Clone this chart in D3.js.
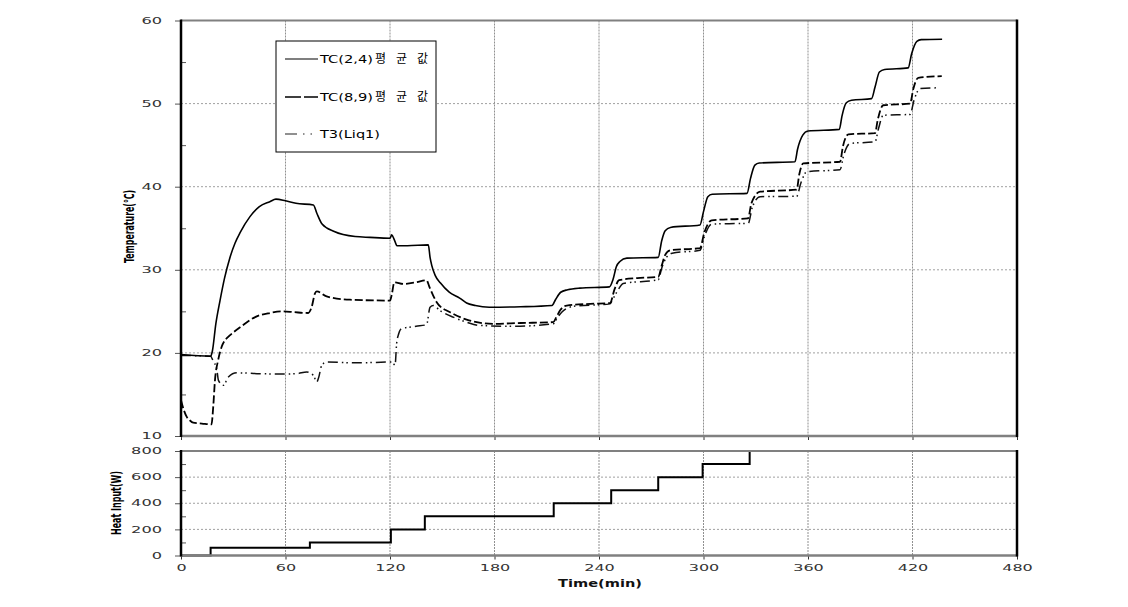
<!DOCTYPE html>
<html><head><meta charset="utf-8">
<script src="https://cdn.jsdelivr.net/npm/d3@7"></script>
<style>
body{margin:0;background:#fff;}
text{font-family:"DejaVu Sans","Noto Sans CJK KR",sans-serif;}
</style></head>
<body><svg id="c" width="1128" height="607"></svg>
<script>
// ---- data ----
const timeTicks = [0,60,120,180,240,300,360,420,480];
const tempTicks = [10,20,30,40,50,60];
const heatTicks = [0,200,400,600,800];
const seriesNames = ["TC(2,4)","TC(8,9)","T3(Liq1)"];
const seriesSuffix = ["평균값","평균값",""];

const tc24_t = [0,17,18,20,22.4,25,28,31,34,39.6,45,51,54.5,60,66,76,78,81,88,100,108.5,120,121,122.5,124,130,142,143,144,146,149,154,160,164,169,177,195,213,215,218,222,229,246,248,250,252,256,274,276,278,281,298,300,302.5,305,325,327,329.5,332,352.5,354,357,360,378,379.5,382,385,396.5,398.5,401,404,417.5,419.5,422.5,425,437];
const tc24_v = [19.8,19.6,20.2,23.5,26.3,29,31.4,33.2,34.5,36.4,37.6,38.2,38.5,38.3,38.0,37.8,36.8,35.5,34.6,34.0,33.9,33.8,34.2,33.6,32.9,32.9,33.0,31.5,30.5,29.3,28.4,27.3,26.6,26.0,25.7,25.5,25.55,25.7,26.4,27.3,27.6,27.8,27.95,28.8,30.4,31.0,31.4,31.5,33.5,34.7,35.1,35.4,37.0,38.8,39.1,39.2,41.0,42.6,42.85,43.0,44.5,46.2,46.7,46.9,48.5,50.1,50.4,50.6,52.0,53.8,54.1,54.3,56.0,57.5,57.7,57.75];

const tc89_t = [0,1.5,3.3,5,7,12,17.5,18.5,19.5,21.3,23.3,26,28,34,43.5,51,58.5,65,73,75,77,78,83.6,97,120,121,122.5,127.6,135,141,142.5,144.8,146.8,150.6,152.5,164,179,195,213.7,215.5,217.6,221.5,235,246.3,249,251.5,262,274,276,278,280.8,298,300.5,304.7,325.6,327.5,332.5,353.5,355,357.3,378.4,380,383.2,398.5,400,403.2,418.6,420.5,423.3,436.8];
const tc89_v = [14.3,13.2,12.3,11.9,11.6,11.5,11.4,13.5,16.7,19.1,20.7,21.7,22.1,23.1,24.4,24.8,25.0,24.9,24.8,25.5,27.2,27.4,26.8,26.4,26.3,27.0,28.5,28.3,28.5,28.75,28.0,26.9,26.1,25.3,25.1,24.0,23.5,23.6,23.7,24.3,25.1,25.7,25.9,26.0,27.7,28.75,29.0,29.15,30.5,31.8,32.35,32.6,34.5,35.96,36.2,38.0,39.4,39.65,41.5,42.8,43.0,44.8,46.3,46.45,48.0,49.8,50.0,51.8,53.1,53.3];

const t3_t = [0,17,18.5,20.5,21.5,24.3,27.2,32,45,57,66.4,72.2,76,78,79,80.8,83.6,100.9,121,122,122.9,123.8,125,126.5,135,141,143,144.9,148.7,156.3,164,171.7,190.7,213.8,216,218.6,225.3,246.3,248,250.2,253.9,274,276,278.9,282,298,300.5,304.7,325.7,328,332.5,353.5,356,359.3,378.4,380.5,384.1,398.5,400.5,403.2,418.6,421,424.3,434.8];
const t3_v = [19.7,19.6,19.0,18.1,16.7,16.1,17.1,17.6,17.5,17.45,17.5,17.7,17.3,16.5,17.0,18.5,18.9,18.8,18.9,18.7,18.5,21.1,22.3,22.9,23.2,23.4,25.5,25.7,25.1,24.3,23.7,23.3,23.2,23.5,24.2,24.9,25.6,25.9,26.5,27.3,28.35,28.8,30.2,31.55,32.0,32.35,34.0,35.5,35.6,37.5,38.8,38.85,40.5,41.8,42.05,43.8,45.2,45.4,47.0,48.6,48.7,50.5,51.8,51.9];

const heat_t = [0,17,74,120.5,140,214,247,274,299.5,326.5];
const heat_v = [0,60,100,200,300,400,500,600,700,800];

// ---- chart ----
const svg = d3.select("#c");
const x = d3.scaleLinear().domain([0,480]).range([181,1017]);
const yT = d3.scaleLinear().domain([10,60]).range([436,20.5]);
const yH = d3.scaleLinear().domain([0,800]).range([555.5,451]);

function grid(y, vals, y0, y1){
  const g = svg.append("g");
  g.selectAll("line.h").data(vals).join("line")
    .attr("x1",x(0)).attr("x2",x(480)).attr("y1",d=>y(d)).attr("y2",d=>y(d))
    .attr("stroke","#a0a0a0").attr("stroke-width",1).attr("stroke-dasharray","2,2");
  g.selectAll("line.v").data(timeTicks.slice(1,-1)).join("line")
    .attr("x1",d=>x(d)).attr("x2",d=>x(d)).attr("y1",y0).attr("y2",y1)
    .attr("stroke","#909090").attr("stroke-width",1).attr("stroke-dasharray","2,1");
}
grid(yT,[20,30,40,50],yT(60),yT(10));
grid(yH,[200,400,600],yH(800),yH(0));

function frame(y0,y1){
  svg.append("line").attr("x1",x(0)).attr("x2",x(480)).attr("y1",y0).attr("y2",y0).attr("stroke","#808080").attr("stroke-width",2);
  svg.append("line").attr("x1",x(0)).attr("x2",x(480)).attr("y1",y1).attr("y2",y1).attr("stroke","#808080").attr("stroke-width",2.5);
  svg.append("line").attr("x1",x(0)).attr("x2",x(0)).attr("y1",y0-1).attr("y2",y1+1).attr("stroke","#000").attr("stroke-width",2.5);
  svg.append("line").attr("x1",x(480)).attr("x2",x(480)).attr("y1",y0-1).attr("y2",y1+1).attr("stroke","#000").attr("stroke-width",2.5);
}

function styleAxis(g, charW){
  g.select(".domain").remove();
  g.selectAll(".tick line").attr("stroke","#555");
  g.selectAll(".tick text").attr("fill","#333").style("font-size","8.5px")
    .each(function(){ const n=this.textContent.length; d3.select(this).attr("textLength",n*charW).attr("lengthAdjust","spacingAndGlyphs"); });
}

// lines
const lineT = d3.line().x(d=>x(d[0])).y(d=>yT(d[1])).curve(d3.curveMonotoneX);
const zip = (a,b)=>a.map((t,i)=>[t,b[i]]);
const styles = [
  {dash:null, w:1.6, c:"#000"},
  {dash:"8,3", w:1.8, c:"#000"},
  {dash:"10,4,1.5,3,1.5,4", w:1.5, c:"#111"}
];
const seriesData = [zip(tc24_t,tc24_v), zip(tc89_t,tc89_v), zip(t3_t,t3_v)];
[2,1,0].forEach(i=>{
  svg.append("path").datum(seriesData[i]).attr("d",lineT)
    .attr("fill","none").attr("stroke",styles[i].c).attr("stroke-width",styles[i].w)
    .attr("stroke-dasharray",styles[i].dash);
});

const lineH = d3.line().x(d=>x(d[0])).y(d=>yH(d[1])).curve(d3.curveStepAfter);
svg.append("path").datum(zip(heat_t,heat_v)).attr("d",lineH)
  .attr("fill","none").attr("stroke","#000").attr("stroke-width",2);

// y axes
const gyT = svg.append("g").attr("transform",`translate(${x(0)},0)`)
  .call(d3.axisLeft(yT).tickValues(tempTicks).tickSize(6).tickPadding(13).tickFormat(d3.format("d")));
styleAxis(gyT,10.3);
svg.append("g").attr("transform",`translate(${x(0)},0)`)
  .call(d3.axisRight(yT).tickValues([15,25,35,45,55]).tickSize(5).tickFormat(""))
  .call(g=>{g.select(".domain").remove(); g.selectAll(".tick line").attr("stroke","#555");});

const gyH = svg.append("g").attr("transform",`translate(${x(0)},0)`)
  .call(d3.axisLeft(yH).tickValues(heatTicks).tickSize(6).tickPadding(13).tickFormat(d3.format("d")));
styleAxis(gyH,10.3);
svg.append("g").attr("transform",`translate(${x(0)},0)`)
  .call(d3.axisRight(yH).tickValues([100,300,500,700]).tickSize(5).tickFormat(""))
  .call(g=>{g.select(".domain").remove(); g.selectAll(".tick line").attr("stroke","#555");});

// x axes
svg.append("g").attr("transform",`translate(0,${yT(10)})`)
  .call(d3.axisBottom(x).tickValues(timeTicks).tickSize(4).tickFormat(""))
  .call(g=>{g.select(".domain").remove(); g.selectAll(".tick line").attr("stroke","#333");});
const gx = svg.append("g").attr("transform",`translate(0,${yH(0)})`)
  .call(d3.axisBottom(x).tickValues(timeTicks).tickSize(4).tickPadding(5).tickFormat(d3.format("d")));
styleAxis(gx,10.2);
gx.selectAll(".tick line").attr("stroke","#333");

frame(yT(60),yT(10));
frame(yH(800),yH(0));

// legend
const lg = svg.append("g");
lg.append("rect").attr("x",276).attr("y",41).attr("width",160).attr("height",111)
  .attr("fill","#fff").attr("stroke","#000").attr("stroke-width",1);
const legY = [59,97,134];
const legDash = [null,"16,3","12,6,1.5,6,1.5,6"];
const legLen = [53,53,60];
seriesNames.forEach((n,i)=>{
  lg.append("line").attr("x1",285).attr("x2",318).attr("y1",legY[i]).attr("y2",legY[i])
    .attr("stroke",i==2?"#222":"#000").attr("stroke-width",i==1?1.6:1.2).attr("stroke-dasharray",legDash[i]);
  const t = lg.append("text").attr("y",legY[i]+4).style("font-size","11px").attr("fill","#000");
  t.append("tspan").attr("x",320).text(n)
    .attr("textLength",legLen[i]).attr("lengthAdjust","spacingAndGlyphs");
  if(seriesSuffix[i]){
    t.append("tspan").attr("x",375).text(seriesSuffix[i]).style("font-size","12px")
      .attr("textLength",53).attr("lengthAdjust","spacing");
  }
});

// axis titles
svg.append("text").attr("transform","translate(134,226.5) rotate(-90)").attr("text-anchor","middle")
  .text("Temperature(℃)").style("font-size","14px").style("font-weight","bold")
  .attr("textLength",73).attr("lengthAdjust","spacingAndGlyphs");
svg.append("text").attr("transform","translate(121,503) rotate(-90)").attr("text-anchor","middle")
  .text("Heat Input(W)").style("font-size","14px").style("font-weight","bold")
  .attr("textLength",64).attr("lengthAdjust","spacingAndGlyphs");
svg.append("text").attr("x",600).attr("y",587).attr("text-anchor","middle")
  .text("Time(min)").style("font-size","11px").style("font-weight","bold").attr("fill","#111")
  .attr("textLength",84).attr("lengthAdjust","spacingAndGlyphs");
</script></body></html>
